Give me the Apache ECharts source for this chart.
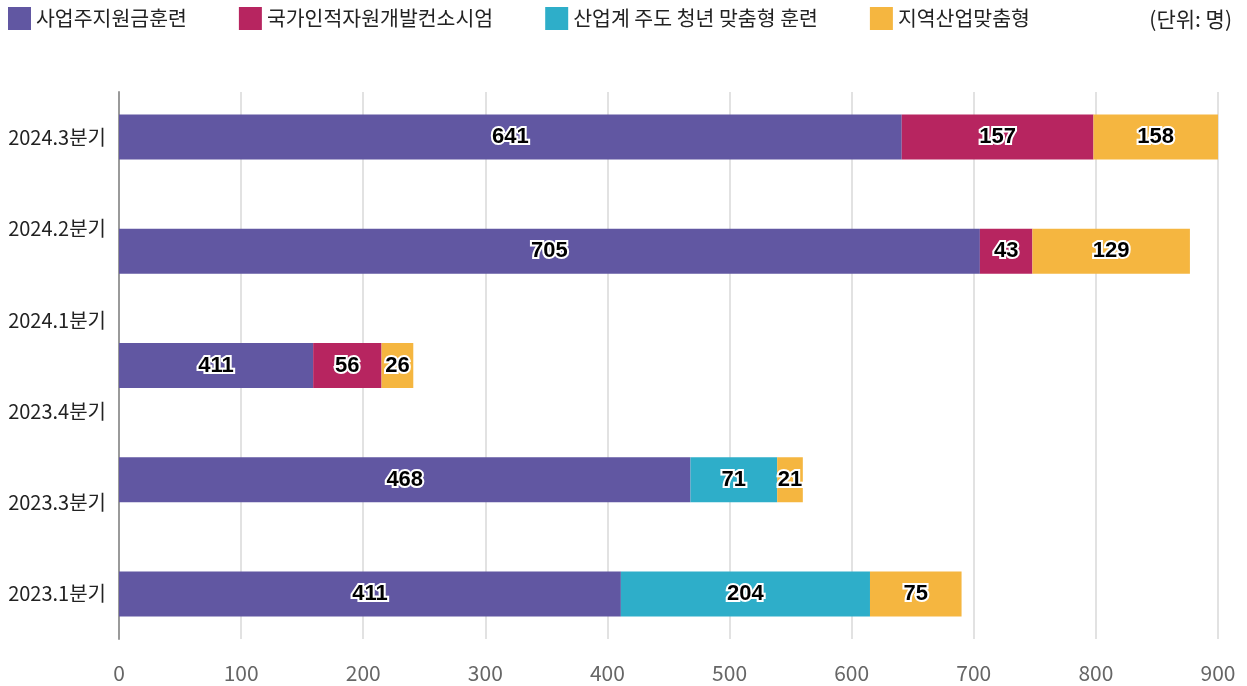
<!DOCTYPE html>
<html>
<head>
<meta charset="utf-8">
<script src="https://cdn.jsdelivr.net/npm/echarts@6/dist/echarts.min.js"></script>
<style>
  html, body { margin: 0; padding: 0; background: #fff; }
  #chart { width: 1247px; height: 686px; }
</style>
</head>
<body>
<div id="chart"></div>
<script>
// axis labels (6 quarters shown on the left)
const quarterLabels = ['2024.3분기', '2024.2분기', '2024.1분기', '2023.4분기', '2023.3분기', '2023.1분기'];
// bar rows (5 bars drawn)
const barRows = ['r1', 'r2', 'r3', 'r4', 'r5'];
const seriesNames = ['사업주지원금훈련', '국가인적자원개발컨소시엄', '산업계 주도 청년 맞춤형 훈련', '지역산업맞춤형'];
const employerSupport = [641, 705, 159, 468, 411];
const employerSupportLabels = [641, 705, 411, 468, 411];
const nationalConsortium = [157, 43, 56, null, null];
const industryYouth = [null, null, null, 71, 204];
const regionalIndustry = [158, 129, 26, 21, 75];
const xTicks = [0, 100, 200, 300, 400, 500, 600, 700, 800, 900];

const colors = ['#6157a2', '#b72560', '#2eaec9', '#f5b640'];
const font = '"Noto Sans CJK KR", sans-serif';

const chart = echarts.init(document.getElementById('chart'));

const labelStyle = {
  show: true,
  position: 'inside',
  color: '#000',
  fontSize: 22,
  fontWeight: 'bold',
  fontFamily: '"Liberation Sans", Arial, sans-serif',
  textBorderColor: '#fff',
  textBorderWidth: 4,
};

const makeSeries = (i, data, labels) => ({
  name: seriesNames[i],
  type: 'bar',
  stack: 'total',
  xAxisIndex: 1,
  yAxisIndex: 1,
  barWidth: 45,
  itemStyle: { color: colors[i] },
  label: Object.assign({}, labelStyle, labels ? {
    formatter: (p) => labels[p.dataIndex],
  } : {}),
  data: data,
});

chart.setOption({
  animation: false,
  color: colors,
  title: {
    text: '(단위: 명)',
    right: 10,
    top: 4,
    textStyle: { fontSize: 21, fontWeight: 'normal', color: '#222', fontFamily: font },
  },
  legend: {
    left: 3,
    top: 2,
    itemWidth: 23,
    itemHeight: 23,
    itemGap: 52,
    icon: 'rect',
    textStyle: { fontSize: 20.5, color: '#222', fontFamily: font },
    data: seriesNames,
  },
  grid: [
    { left: 119, right: 29, top: 92, bottom: 47, containLabel: false },
    { left: 119, right: 29, top: 137, bottom: 92, containLabel: false },
  ],
  xAxis: [
    {
      gridIndex: 0,
      type: 'value',
      min: 0,
      max: 900,
      interval: 100,
      axisLine: { show: false },
      axisTick: { show: false },
      axisLabel: { color: '#666', fontSize: 21, fontFamily: font, margin: 24 },
      splitLine: { lineStyle: { color: '#d9d9d9', width: 1.5 } },
    },
    {
      gridIndex: 1,
      type: 'value',
      min: 0,
      max: 900,
      show: false,
    },
  ],
  yAxis: [
    {
      gridIndex: 0,
      type: 'category',
      inverse: true,
      data: quarterLabels,
      axisLine: { lineStyle: { color: '#9a9a9a', width: 2 } },
      axisTick: { show: false },
      axisLabel: { color: '#222', fontSize: 20, fontFamily: font, margin: 13 },
    },
    {
      gridIndex: 1,
      type: 'category',
      inverse: true,
      boundaryGap: false,
      data: barRows,
      show: false,
    },
  ],
  series: [
    makeSeries(0, employerSupport, employerSupportLabels),
    makeSeries(1, nationalConsortium),
    makeSeries(2, industryYouth),
    makeSeries(3, regionalIndustry),
  ],
});
</script>
</body>
</html>
